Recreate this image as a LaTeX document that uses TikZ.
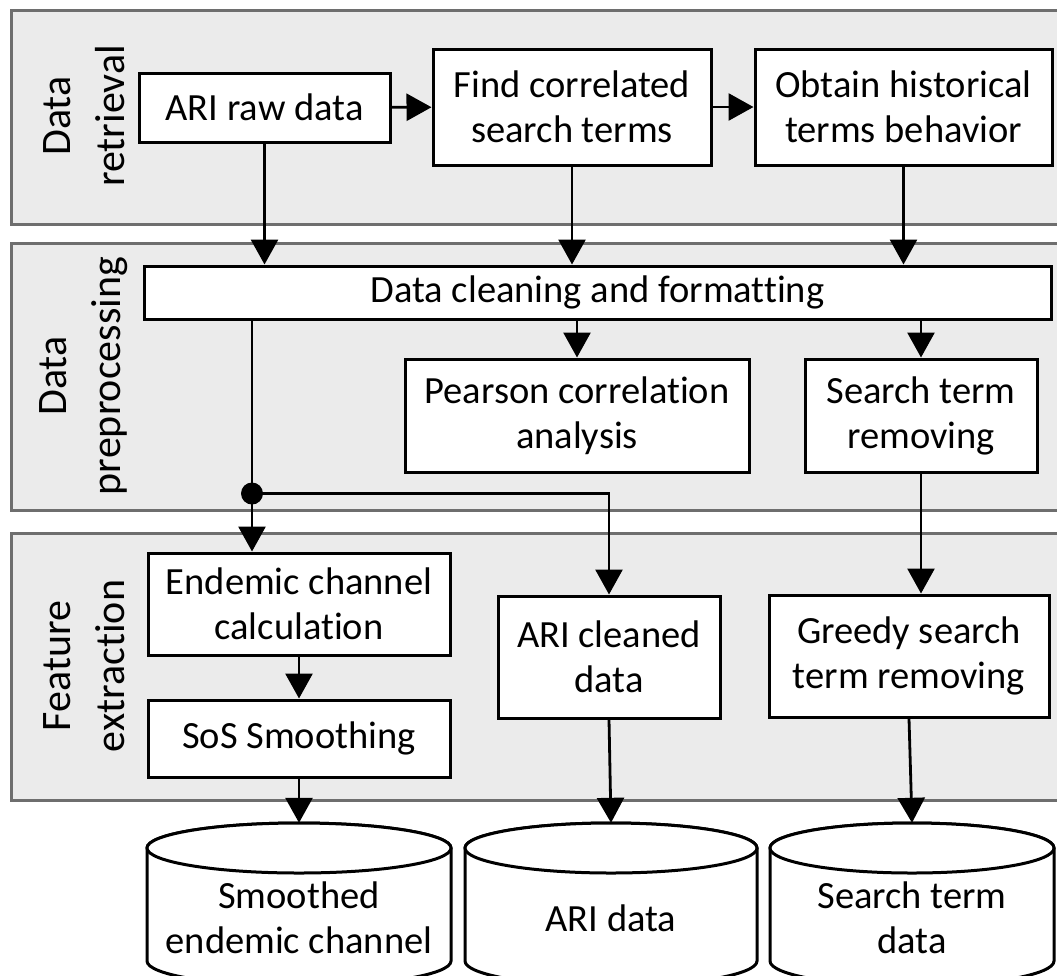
\documentclass[tikz,border=0pt]{standalone}
\usepackage{fontspec}
\setmainfont{Carlito}[Ligatures=NoCommon]
\usetikzlibrary{arrows.meta}
\definecolor{panelfill}{HTML}{EBEBEB}
\definecolor{panelline}{HTML}{6E6E6E}
\newcommand\boxfont{\fontsize{38.5}{45}\selectfont}
\newcommand\labfont{\fontsize{42}{54}\selectfont}
% database drum: centre x, half width
\newcommand\drum[2]{%
  \filldraw[drumline] ({#1-#2},848) -- ({#1-#2},961)
    arc[start angle=180,end angle=0,x radius=#2,y radius=25]
    -- ({#1+#2},848)
    arc[start angle=0,end angle=-180,x radius=#2,y radius=25] -- cycle;
  \draw[drumline] (#1,848) ellipse[x radius=#2,y radius=25];}
\begin{document}
\begin{tikzpicture}[x=1pt,y=-1pt,
  panel/.style={draw=panelline, fill=panelfill, line width=3pt},
  box/.style={draw, fill=white, line width=3pt, align=center, inner sep=0pt, font=\boxfont},
  lab/.style={rotate=90, align=center, inner sep=0pt, font=\labfont},
  store/.style={align=center, inner sep=0pt, font=\boxfont, minimum height=190pt},
  drumline/.style={draw, fill=white, line width=3pt},
  arr/.style={line width=2.8pt, -{Triangle[length=25pt,width=27pt]}},
  plain/.style={line width=2.8pt}]
\useasboundingbox (0,0) rectangle (1057,975);

% stage panels
\draw[panel] (11,10) rectangle (1075,224);
\draw[panel] (11,243) rectangle (1075,510);
\draw[panel] (11,533) rectangle (1075,800);

\node[lab] (l1) at (84,116) {Data\\retrieval};
\node[lab] (l2) at (84,376) {Data\\preprocessing};
\node[lab] (l3) at (84,666) {Feature\\extraction};

% data retrieval
\node[box, minimum width=251pt, minimum height=69pt] (ari) at (264.5,107.5) {ARI raw data};
\node[box, minimum width=278pt, minimum height=116pt] (find) at (572,107) {Find correlated\\search terms};
\node[box, minimum width=297pt, minimum height=116pt] (obtain) at (903.5,107) {Obtain historical\\terms behavior};

% data preprocessing
\node[box, minimum width=907pt, minimum height=53pt] (clean) at (597.5,292.5) {Data cleaning and formatting};
\node[box, minimum width=344pt, minimum height=113pt] (pearson) at (577,415.5) {Pearson correlation\\analysis};
\node[box, minimum width=232pt, minimum height=113pt] (search) at (921,415.5) {Search term\\removing};
\node[circle, fill, inner sep=0pt, minimum size=22pt] (split) at (252,493.5) {};

% feature extraction
\node[box, minimum width=302pt, minimum height=102pt] (endemic) at (299,604) {Endemic channel\\calculation};
\node[box, minimum width=302pt, minimum height=77pt] (sos) at (299,738.5) {SoS Smoothing};
\node[box, minimum width=222pt, minimum height=122pt] (ariclean) at (609,657) {ARI cleaned\\data};
\node[box, minimum width=280pt, minimum height=122pt] (greedy) at (909,656) {Greedy search\\term removing};

% output stores
\drum{299}{152}
\drum{611}{146}
\drum{912}{142}
\node[store, minimum width=304pt] (db1) at (299,918) {Smoothed\\endemic channel};
\node[store, minimum width=292pt] (db2) at (611,918) {ARI data};
\node[store, minimum width=284pt] (db3) at (912,918) {Search term\\data};

% connectors
\draw[arr] (ari) -- (find);
\draw[arr] (find) -- (obtain);
\draw[arr] (ari.south) -- (ari.south |- clean.north);
\draw[arr] (find.south) -- (find.south |- clean.north);
\draw[arr] (obtain.south) -- (obtain.south |- clean.north);
\draw[arr] (pearson.north |- clean.south) -- (pearson.north);
\draw[arr] (search.north |- clean.south) -- (search.north);
\draw[plain] (clean.south -| split) -- (split.center);
\draw[arr] (split.center) -- (endemic.north -| split);
\draw[arr] (split.center) -| (ariclean.north);
\draw[arr] (search.south) -- (search.south |- greedy.north);
\draw[arr] (endemic) -- (sos);
\draw[arr] (sos.south) -- (db1.north);
\draw[arr] (ariclean.south) -- (db2.north);
\draw[arr] (greedy.south) -- (db3.north);
\end{tikzpicture}
\end{document}
